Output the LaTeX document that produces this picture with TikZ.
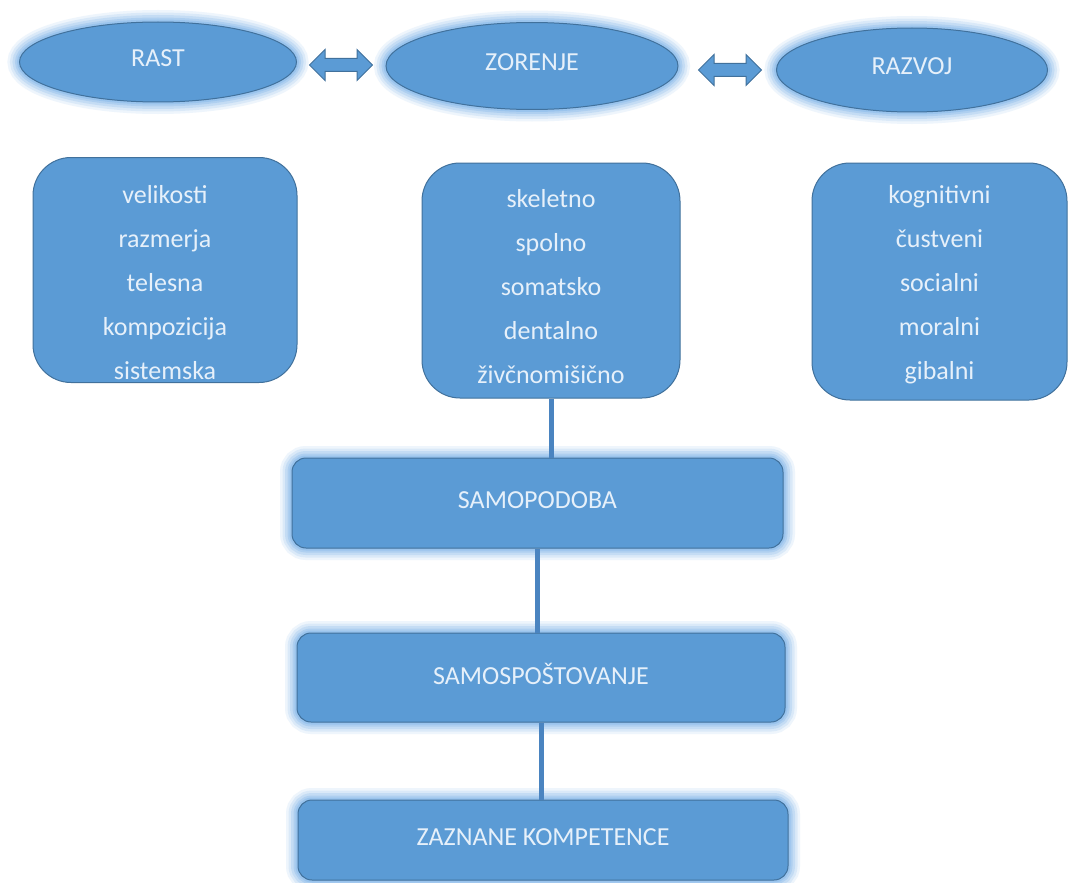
\documentclass[tikz,border=0pt]{standalone}
\usepackage{fontspec}
\setmainfont{Carlito}
\usetikzlibrary{shapes.geometric,shapes.arrows}
\definecolor{fillb}{HTML}{5B9BD5}
\definecolor{edgeb}{HTML}{41719C}
\definecolor{glowb}{HTML}{8DBDEB}
\definecolor{txtb}{HTML}{E6F0FA}
\definecolor{lineb}{HTML}{4A84C0}
\tikzset{
 glow/.style={preaction={draw=glowb, line width=24pt, draw opacity=0.15},
   preaction={draw=glowb, line width=19pt, draw opacity=0.2},
   preaction={draw=glowb, line width=14pt, draw opacity=0.28},
   preaction={draw=glowb, line width=9pt, draw opacity=0.4},
   preaction={draw=glowb, line width=5pt, draw opacity=0.6}},
 base/.style={fill=fillb, draw=edgeb, line width=1pt, text=txtb, font=\fontsize{26pt}{31pt}\selectfont, inner sep=0pt},
 oval/.style={base, glow, ellipse},
 listbox/.style={base, rounded corners=38pt},
 listtext/.style={text=txtb, align=center, font=\fontsize{26pt}{44pt}\selectfont, inner sep=0pt},
 bar/.style={base, glow, rounded corners=14pt},
 dbl/.style={double arrow, double arrow head extend=9pt, fill=fillb, draw=edgeb, line width=1pt, inner sep=6pt, minimum height=63pt},
 link/.style={draw=lineb, line width=5pt},
}
\begin{document}
\begin{tikzpicture}[x=1pt,y=-1pt]
\useasboundingbox[fill=white] (0,0) rectangle (1072,883);
% top ovals
\node[oval, minimum width=277pt, minimum height=80pt] (rast) at (158,62) {\raisebox{7pt}{RAST}};
\node[oval, minimum width=292pt, minimum height=87pt] (zor) at (532,66) {\raisebox{8pt}{ZORENJE}};
\node[oval, minimum width=271pt, minimum height=84pt] (raz) at (912,70) {\raisebox{7pt}{RAZVOJ}};
\node[dbl] (a1) at (341,65) {};
\node[dbl] (a2) at (730,70) {};
% list boxes
\node[listbox, minimum width=264pt, minimum height=225pt] (rbox) at (165,270) {};
\node[listtext] (rtext) at (165,283) {velikosti\\razmerja\\telesna\\kompozicija\\sistemska};
\node[listbox, minimum width=258pt, minimum height=235pt] (zbox) at (551,280.5) {};
\node[listtext] (ztext) at (551,287) {skeletno\\spolno\\somatsko\\dentalno\\živčnomišično};
\node[listbox, minimum width=255pt, minimum height=237pt] (vbox) at (939.5,281.5) {};
\node[listtext] (vtext) at (939.5,285) {kognitivni\\čustveni\\socialni\\moralni\\gibalni};
% bars
\node[bar, minimum width=491pt, minimum height=90pt] (sp) at (537.5,503) {\raisebox{6pt}{SAMOPODOBA}};
\node[bar, minimum width=488pt, minimum height=89pt] (ss) at (541,677.5) {\raisebox{7pt}{SAMOSPOŠTOVANJE}};
\node[bar, minimum width=490pt, minimum height=80pt] (zk) at (543,840) {\raisebox{5pt}{ZAZNANE KOMPETENCE}};
% links
\draw[link] (zbox.south) -- (zbox.south |- sp.north);
\draw[link] (sp.south) -- (sp.south |- ss.north);
\draw[link] (ss.south) -- (ss.south |- zk.north);
\end{tikzpicture}
\end{document}
